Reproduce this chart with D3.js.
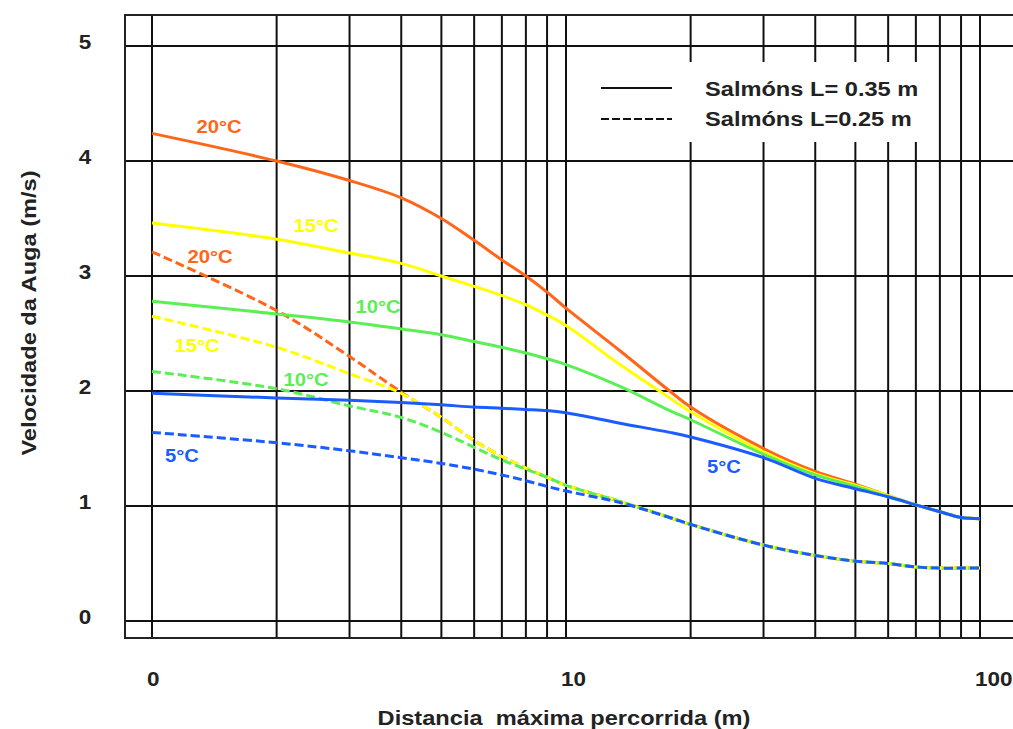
<!doctype html>
<html lang="gl">
<head>
  <meta charset="utf-8">
  <title>Velocidade da Auga</title>
  <script src="https://cdn.jsdelivr.net/npm/d3@7"></script>
  <style type="text/css">
    body {
      margin: 0;
      background-color: #ffffff;
    }
    text {
      font-family: "Liberation Sans", Arial, sans-serif;
      font-weight: bold;
    }
    .grid {
      stroke: #111111;
      stroke-width: 2px;
    }
    .curve {
      fill: none;
      stroke-width: 3px;
    }
  </style>
</head>
<body>
  <div id="container"></div>

<script type="text/javascript">

  // Distance points (m) read along the log axis
  var distances = [1, 2, 3, 4, 5, 6, 7, 8, 9, 10, 13.5, 17.8, 20, 30, 40, 50, 60, 70, 80, 90, 100];

  // Salmons L = 0.35 m (solid)
  var solid20 = [4.24, 4.00, 3.83, 3.68, 3.50, 3.31, 3.14, 3.00, 2.86, 2.72, 2.35, 2.00, 1.86, 1.50, 1.30, 1.19, 1.09, 1.01, 0.95, 0.90, 0.89];
  var solid15 = [3.46, 3.32, 3.20, 3.11, 3.00, 2.91, 2.83, 2.75, 2.66, 2.57, 2.23, 1.94, 1.82, 1.47, 1.28, 1.18, 1.09, 1.01, 0.95, 0.90, 0.89];
  var solid10 = [2.78, 2.67, 2.60, 2.54, 2.49, 2.43, 2.38, 2.33, 2.28, 2.23, 2.04, 1.83, 1.75, 1.45, 1.27, 1.17, 1.08, 1.01, 0.95, 0.90, 0.89];
  var solid5  = [1.98, 1.94, 1.92, 1.90, 1.88, 1.86, 1.85, 1.84, 1.83, 1.81, 1.72, 1.64, 1.60, 1.42, 1.24, 1.15, 1.08, 1.01, 0.95, 0.90, 0.89];

  // Salmons L = 0.25 m (dashed)
  var dash20 = [3.21, 2.70, 2.30, 1.99, 1.77, 1.57, 1.43, 1.33, 1.25, 1.18, 1.04, 0.90, 0.84, 0.66, 0.57, 0.52, 0.50, 0.47, 0.46, 0.46, 0.46];
  var dash15 = [2.65, 2.38, 2.15, 1.98, 1.77, 1.57, 1.43, 1.33, 1.25, 1.18, 1.04, 0.90, 0.84, 0.66, 0.57, 0.52, 0.50, 0.47, 0.46, 0.46, 0.46];
  var dash10 = [2.17, 2.02, 1.87, 1.77, 1.64, 1.51, 1.40, 1.32, 1.25, 1.18, 1.04, 0.90, 0.84, 0.66, 0.57, 0.52, 0.50, 0.47, 0.46, 0.46, 0.46];
  var dash5  = [1.64, 1.55, 1.48, 1.42, 1.37, 1.32, 1.27, 1.22, 1.17, 1.13, 1.03, 0.90, 0.84, 0.66, 0.57, 0.52, 0.50, 0.47, 0.46, 0.46, 0.46];

  // Axis ticks and grid
  var xGrid = [1, 2, 3, 4, 5, 6, 7, 8, 9, 10, 20, 30, 40, 50, 60, 70, 80, 90, 100];
  var xTicks = [1, 10, 100];
  var xTickLabels = ["0", "10", "100"];
  var yTicks = [0, 1, 2, 3, 4, 5];

  var legendLabels = ["Salmóns L= 0.35 m", "Salmóns L=0.25 m"];

  var colors = { t20: "#ff661a", t15: "#ffff00", t10: "#5cee55", t5: "#1a5cff" };

  // SVG dimensions
  var width = 1013, height = 729;
  var stretch = 1.125;

  var svg = d3.select("#container")
              .append("svg")
              .attr("width", width)
              .attr("height", height);

  // Log scale for distance, linear for speed
  var xScale = d3.scaleLog()
    .domain([1, 100])
    .range([152, 980]);
  var yScale = d3.scaleLinear()
    .domain([0, 5])
    .range([621, 46]);

  var frame = { left: 125, top: 15, right: 1030, bottom: 638 };

  // Grid lines
  svg.selectAll(".vgrid")
    .data(xGrid)
    .enter()
    .append("line")
    .attr("class", "grid")
    .attr("x1", function(d) { return xScale(d); })
    .attr("x2", function(d) { return xScale(d); })
    .attr("y1", frame.top)
    .attr("y2", frame.bottom);

  svg.selectAll(".hgrid")
    .data(yTicks)
    .enter()
    .append("line")
    .attr("class", "grid")
    .attr("x1", frame.left)
    .attr("x2", frame.right)
    .attr("y1", function(d) { return yScale(d); })
    .attr("y2", function(d) { return yScale(d); });

  // Outer frame
  svg.append("rect")
    .attr("x", frame.left)
    .attr("y", frame.top)
    .attr("width", frame.right - frame.left)
    .attr("height", frame.bottom - frame.top)
    .attr("fill", "none")
    .attr("stroke", "#222")
    .attr("stroke-width", 2);

  // Legend box hides the grid behind it
  svg.append("rect")
    .attr("x", 585)
    .attr("y", 62)
    .attr("width", 343)
    .attr("height", 80)
    .attr("fill", "#ffffff");

  // Curves
  var line = d3.line()
    .x(function(d) { return xScale(d[0]); })
    .y(function(d) { return yScale(d[1]); })
    .curve(d3.curveCatmullRom.alpha(0.5));

  function pts(values) {
    return distances.map(function(d, i) { return [d, values[i]]; });
  }

  var series = [
    { v: dash20, c: colors.t20, dashed: true },
    { v: dash15, c: colors.t15, dashed: true },
    { v: dash10, c: colors.t10, dashed: true },
    { v: solid20, c: colors.t20, dashed: false },
    { v: solid15, c: colors.t15, dashed: false },
    { v: solid10, c: colors.t10, dashed: false },
    { v: solid5, c: colors.t5, dashed: false },
    { v: dash5, c: colors.t5, dashed: true }
  ];

  svg.selectAll(".curve")
    .data(series)
    .enter()
    .append("path")
    .attr("class", "curve")
    .attr("stroke", function(d) { return d.c; })
    .attr("stroke-dasharray", function(d) { return d.dashed ? "9,4" : null; })
    .attr("d", function(d) { return line(pts(d.v)); });

  // Text helper, slightly wide like the original
  function addText(x, y, txt, size, color, anchor, rotate) {
    return svg.append("text")
      .attr("transform", "translate(" + x + "," + y + ")" + (rotate ? " rotate(" + rotate + ")" : "") + " scale(" + stretch + ",1)")
      .attr("text-anchor", anchor || "start")
      .attr("font-size", size + "px")
      .attr("fill", color)
      .style("white-space", "pre")
      .text(txt);
  }

  // Curve labels
  addText(219, 133, "20°C", 18, colors.t20, "middle");
  addText(316, 232, "15°C", 18, colors.t15, "middle");
  addText(210, 263, "20°C", 18, colors.t20, "middle");
  addText(378, 313, "10°C", 18, colors.t10, "middle");
  addText(197, 352, "15°C", 18, colors.t15, "middle");
  addText(306, 386, "10°C", 18, colors.t10, "middle");
  addText(182, 462, "5°C", 18, colors.t5, "middle");
  addText(724, 473, "5°C", 18, colors.t5, "middle");

  // Tick labels
  yTicks.forEach(function(d) {
    addText(85, yScale(d) + 3, String(d), 20, "#222", "middle");
  });
  xTicks.forEach(function(d, i) {
    addText(xScale(d) - 5, 686, xTickLabels[i], 20, "#222", "start");
  });

  // Axis titles
  addText(564, 725, "Distancia  máxima percorrida (m)", 21, "#222", "middle");
  addText(36, 313, "Velocidade da Auga (m/s)", 21, "#222", "middle", -90);

  // Legend
  svg.append("line")
    .attr("x1", 601).attr("x2", 672)
    .attr("y1", 88).attr("y2", 88)
    .attr("stroke", "#111").attr("stroke-width", 2);
  svg.append("line")
    .attr("x1", 601).attr("x2", 672)
    .attr("y1", 119).attr("y2", 119)
    .attr("stroke", "#111").attr("stroke-width", 2)
    .attr("stroke-dasharray", "8,3");
  addText(705, 96, legendLabels[0], 21, "#222", "start");
  addText(705, 126, legendLabels[1], 21, "#222", "start");

</script>
</body>
</html>
